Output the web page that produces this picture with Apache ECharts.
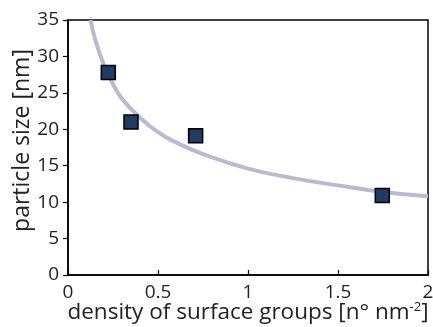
<!DOCTYPE html>
<html><head><meta charset="utf-8">
<script src="https://cdn.jsdelivr.net/npm/echarts@6/dist/echarts.min.js"></script>
<style>html,body{margin:0;padding:0;background:#fff}#c{width:433px;height:327px}</style>
</head><body><div id="c"></div>
<script>
const densities = [0.224, 0.35, 0.709, 1.746];
const sizes = [27.8, 21.0, 19.1, 10.9];
const fitX = [0.126, 0.15, 0.2, 0.25, 0.3, 0.4, 0.5, 0.6, 0.75, 1.0, 1.25, 1.5, 1.75, 2.0];
const fitY = [35, 32.4, 28.8, 26.2, 24.2, 21.6, 19.6, 18.2, 16.6, 14.6, 13.3, 12.3, 11.4, 10.8];
const xTicks = [0, 0.5, 1, 1.5, 2];
const yTicks = [0, 5, 10, 15, 20, 25, 30, 35];

const font = '"Open Sans", sans-serif';
const chart = echarts.init(document.getElementById('c'));
chart.setOption({
  animation: false,
  grid: {left: 68, right: 5, top: 20, bottom: 52, show: true, borderColor: '#000', borderWidth: 1.5,
         containLabel: false, outerBoundsMode: 'none'},
  xAxis: {
    type: 'value', min: 0, max: 2, interval: 0.5,
    axisLine: {lineStyle: {color: '#000', width: 1.5}},
    axisTick: {inside: true, length: 5, lineStyle: {color: '#000', width: 1.2}},
    splitLine: {show: false},
    axisLabel: {color: '#222', fontFamily: font, fontSize: 19, margin: 8, lineHeight: 19,
      formatter: v => xTicks.includes(v) ? String(v) : ''},
    name: '{t|density of surface groups [n° nm}{s|-2}{t|]}',
    nameLocation: 'middle', nameGap: 26, nameMoveOverlap: false,
    nameTextStyle: {rich: {
      t: {fontFamily: font, fontSize: 22.5, color: '#222'},
      s: {fontFamily: font, fontSize: 13, color: '#222', verticalAlign: 'top', padding: [0,0,9,0]}
    }}
  },
  yAxis: {
    type: 'value', min: 0, max: 35, interval: 5,
    axisLine: {lineStyle: {color: '#000', width: 1.5}},
    axisTick: {inside: false, length: 5, lineStyle: {color: '#000', width: 1.2}},
    splitLine: {show: false},
    axisLabel: {color: '#222', fontFamily: font, fontSize: 19, margin: 9,
      formatter: v => yTicks.includes(v) ? String(v) : ''},
    name: 'particle size [nm]', nameLocation: 'middle', nameGap: 34, nameMoveOverlap: false,
    nameTextStyle: {fontFamily: font, fontSize: 23, color: '#222', padding: [0, 0, 0, 14]}
  },
  series: [
    {type: 'line', data: fitX.map((x, i) => [x, fitY[i]]), smooth: true, symbol: 'none',
     lineStyle: {color: '#b9b9d1', width: 4}, z: 1},
    {type: 'scatter', data: densities.map((x, i) => [x, sizes[i]]), symbol: 'rect', symbolSize: 14,
     itemStyle: {color: '#1f3b66', borderColor: '#000', borderWidth: 1.5, opacity: 1}, z: 3}
  ]
});
</script></body></html>
